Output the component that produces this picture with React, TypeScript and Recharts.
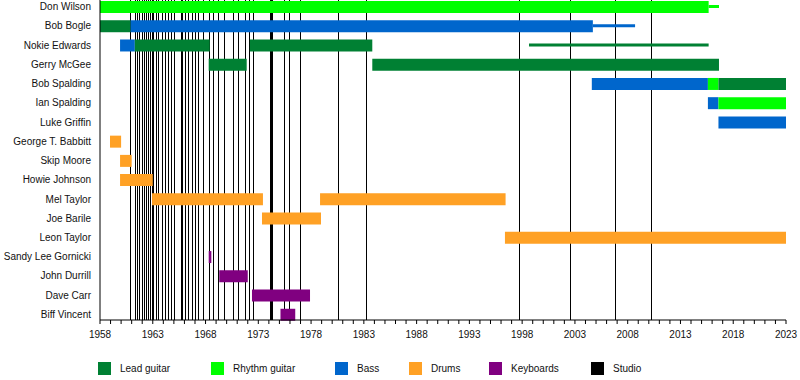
import { BarChart, Bar, XAxis, YAxis, Cell, ReferenceLine, Legend } from "recharts";

const MEMBERS = [
  "Don Wilson",
  "Bob Bogle",
  "Nokie Edwards",
  "Gerry McGee",
  "Bob Spalding",
  "Ian Spalding",
  "Luke Griffin",
  "George T. Babbitt",
  "Skip Moore",
  "Howie Johnson",
  "Mel Taylor",
  "Joe Barile",
  "Leon Taylor",
  "Sandy Lee Gornicki",
  "John Durrill",
  "Dave Carr",
  "Biff Vincent",
];

// [member, from, to] in decimal years
const LEAD_GUITAR: [string, number, number][] = [
  ["Bob Bogle", 1958, 1960.9],
  ["Nokie Edwards", 1961.3, 1968.4],
  ["Nokie Edwards", 1972.2, 1983.8],
  ["Gerry McGee", 1968.3, 1971.9],
  ["Gerry McGee", 1983.8, 2016.65],
  ["Bob Spalding", 2016.6, 2023],
];

const RHYTHM_GUITAR: [string, number, number][] = [
  ["Don Wilson", 1958, 2015.67],
  ["Bob Spalding", 2015.6, 2016.6],
  ["Ian Spalding", 2016.6, 2023],
];

const BASS: [string, number, number][] = [
  ["Bob Bogle", 1960.9, 2004.7],
  ["Nokie Edwards", 1959.9, 1961.3],
  ["Bob Spalding", 2004.6, 2015.6],
  ["Ian Spalding", 2015.6, 2016.6],
  ["Luke Griffin", 2016.6, 2023],
];

const DRUMS: [string, number, number][] = [
  ["George T. Babbitt", 1958.95, 1960.0],
  ["Skip Moore", 1959.9, 1961.0],
  ["Howie Johnson", 1959.9, 1963.0],
  ["Mel Taylor", 1962.93, 1973.44],
  ["Mel Taylor", 1978.85, 1996.43],
  ["Joe Barile", 1973.35, 1978.94],
  ["Leon Taylor", 1996.37, 2023],
];

const KEYBOARDS: [string, number, number][] = [
  ["Sandy Lee Gornicki", 1968.3, 1968.55],
  ["John Durrill", 1969.3, 1972.0],
  ["Dave Carr", 1972.4, 1977.9],
  ["Biff Vincent", 1975.1, 1976.5],
];

// thin bars: [member, instrument, from, to]
const PART_TIME: [string, string, number, number][] = [
  ["Don Wilson", "rhythm", 2015.67, 2016.65],
  ["Bob Bogle", "bass", 2004.7, 2008.7],
  ["Nokie Edwards", "lead", 1998.65, 2015.67],
];

const STUDIO_ALBUMS = [
  1960.87, 1961.41, 1961.57, 1961.76, 1961.98, 1962.2, 1962.45, 1962.64, 1962.8,
  1962.93, 1963.05, 1963.31, 1963.56, 1963.9, 1964.19, 1964.51, 1964.73, 1965.04,
  1965.7, 1965.84, 1966.12, 1966.43, 1966.75, 1967.03, 1967.38, 1967.83, 1968.39,
  1968.71, 1969.21, 1969.78, 1970.63, 1971.1, 1971.77, 1972.12, 1972.21, 1972.53,
  1974.11, 1974.23, 1974.33, 1975.46, 1976.0, 1976.98, 1980.58, 1983.27, 1997.73,
  2002.56, 2006.83, 2010.25,
];

const LABEL_YEARS = [1958, 1963, 1968, 1973, 1978, 1983, 1988, 1993, 1998, 2003, 2008, 2013, 2018, 2023];
const YEAR_TICKS = Array.from({ length: 2023 - 1958 + 1 }, (_, i) => 1958 + i);

const COLORS: Record<string, string> = {
  lead: "#008033",
  rhythm: "#00FF00",
  bass: "#0066CC",
  drums: "#FFA125",
  keys: "#800080",
  studio: "#000000",
};

const LEGEND_ITEMS = [
  { label: "Lead guitar", color: COLORS.lead },
  { label: "Rhythm guitar", color: COLORS.rhythm },
  { label: "Bass", color: COLORS.bass },
  { label: "Drums", color: COLORS.drums },
  { label: "Keyboards", color: COLORS.keys },
  { label: "Studio", color: COLORS.studio },
];
const LEGEND_X = [98, 211, 335, 409, 489, 591];

const FONT = "'Liberation Sans', Arial, sans-serif";
const SLOTS = ["s0", "s1", "s2"];
const Y_PAD = { top: 0, bottom: -4 };

const allSegments = [
  ...LEAD_GUITAR.map(([m, a, b]) => ({ m, a, b, color: COLORS.lead })),
  ...RHYTHM_GUITAR.map(([m, a, b]) => ({ m, a, b, color: COLORS.rhythm })),
  ...BASS.map(([m, a, b]) => ({ m, a, b, color: COLORS.bass })),
  ...DRUMS.map(([m, a, b]) => ({ m, a, b, color: COLORS.drums })),
  ...KEYBOARDS.map(([m, a, b]) => ({ m, a, b, color: COLORS.keys })),
];

const rows = MEMBERS.map((name) => {
  const row: any = { name };
  allSegments
    .filter((s) => s.m === name)
    .sort((x, y) => x.a - y.a)
    .forEach((s, i) => {
      row[`s${i}`] = [s.a, s.b];
      row[`c${i}`] = s.color;
    });
  PART_TIME.filter((p) => p[0] === name).forEach((p) => {
    row.t0 = [p[2], p[3]];
    row.ct = COLORS[p[1]];
  });
  return row;
});

function NameTick(props: any) {
  return (
    <text
      x={props.x}
      y={props.y}
      dy="0.355em"
      textAnchor="end"
      fontFamily={FONT}
      fontSize={10}
      fill="#111"
    >
      {props.payload.value}
    </text>
  );
}

function LegendContent() {
  return (
    <div style={{ position: "relative", width: 800, height: 14, fontFamily: FONT, fontSize: 10 }}>
      {LEGEND_ITEMS.map((item, i) => (
        <div key={item.label} style={{ position: "absolute", left: LEGEND_X[i], top: 0, display: "flex", alignItems: "center" }}>
          <span style={{ width: 13, height: 13, background: item.color, display: "inline-block" }} />
          <span style={{ marginLeft: 9, color: "#111", whiteSpace: "nowrap" }}>{item.label}</span>
        </div>
      ))}
    </div>
  );
}

export default function App() {
  return (
    <div style={{ position: "absolute", left: 0, top: -3, width: 800, height: 380 }}>
      <BarChart
        width={800}
        height={380}
        data={rows}
        layout="vertical"
        margin={{ top: 0, right: 14, bottom: 27, left: 0 }}
      >
        <XAxis
          type="number"
          domain={[1958, 2023]}
          ticks={YEAR_TICKS}
          interval={0}
          tickFormatter={(v: number) => (LABEL_YEARS.includes(v) ? String(v) : "")}
          tickSize={4}
          tickMargin={7}
          height={30}
          axisLine={{ stroke: "#000" }}
          tickLine={{ stroke: "#000" }}
          tick={{ fontFamily: FONT, fontSize: 10, fill: "#111" }}
        />
        <YAxis
          yAxisId="s0"
          type="category"
          dataKey="name"
          width={100}
          padding={Y_PAD}
          tickSize={0}
          tickMargin={9}
          tickLine={false}
          interval={0}
          axisLine={{ stroke: "#000" }}
          tick={NameTick}
        />
        <YAxis yAxisId="s1" type="category" dataKey="name" hide padding={Y_PAD} />
        <YAxis yAxisId="s2" type="category" dataKey="name" hide padding={Y_PAD} />
        <YAxis yAxisId="t0" type="category" dataKey="name" hide padding={Y_PAD} />
        {STUDIO_ALBUMS.map((x) => (
          <ReferenceLine
            key={x}
            x={x}
            yAxisId="s0"
            stroke={COLORS.studio}
            strokeWidth={1}
            shapeRendering="crispEdges"
            zIndex={-100}
          />
        ))}
        {SLOTS.map((k, i) => (
          <Bar key={k} dataKey={k} yAxisId={k} barSize={12} isAnimationActive={false}>
            {rows.map((r, j) => (
              <Cell key={j} fill={r[`c${i}`] || "none"} />
            ))}
          </Bar>
        ))}
        <Bar dataKey="t0" yAxisId="t0" barSize={3} isAnimationActive={false}>
          {rows.map((r, j) => (
            <Cell key={j} fill={r.ct || "none"} />
          ))}
        </Bar>
        <Legend
          layout="vertical"
          align="center"
          verticalAlign="middle"
          content={LegendContent}
          wrapperStyle={{ top: 365, left: 0, width: 800 }}
        />
      </BarChart>
    </div>
  );
}
